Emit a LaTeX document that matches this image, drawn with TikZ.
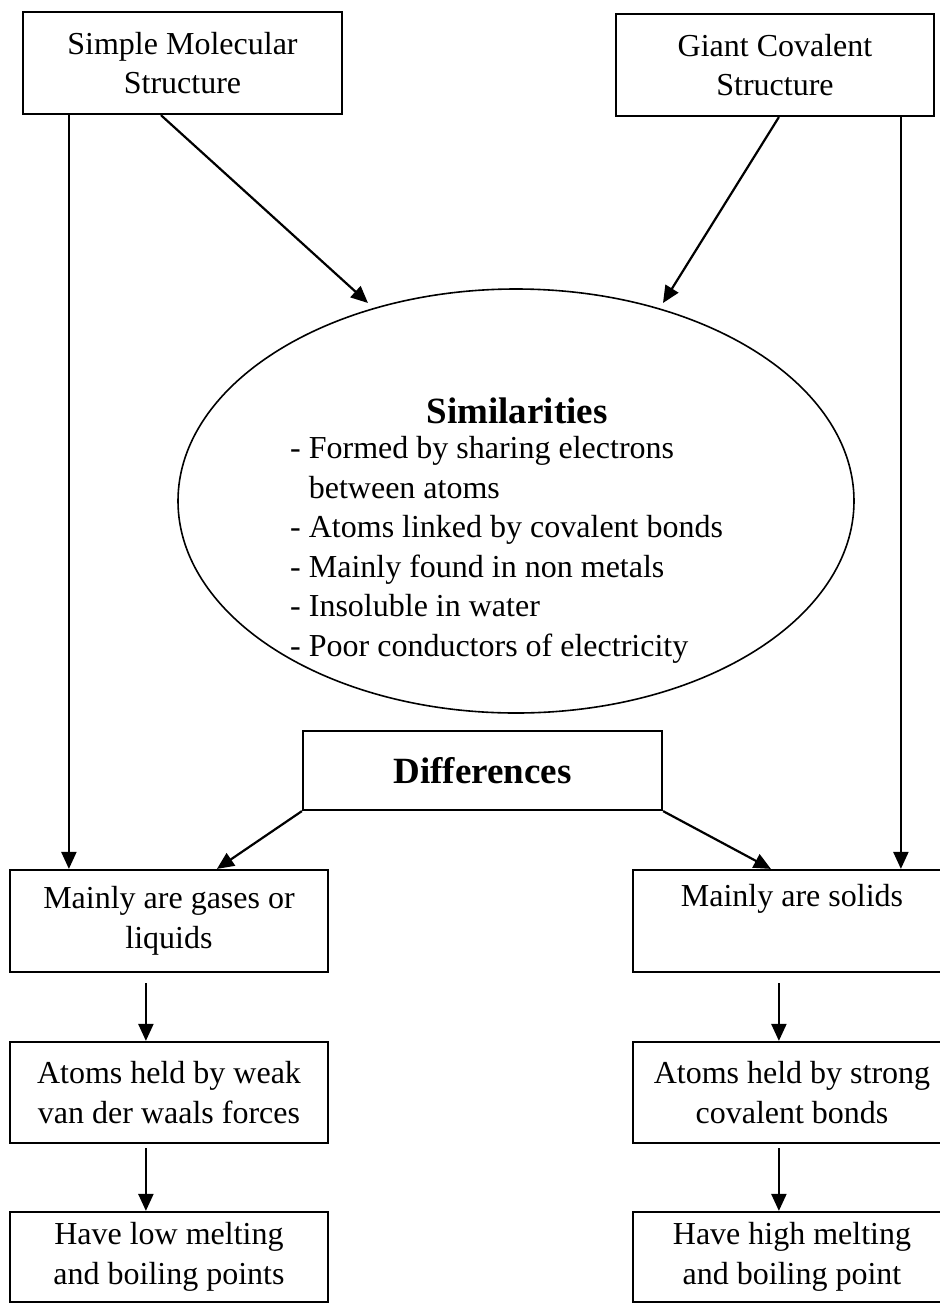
\documentclass[tikz,border=0pt]{standalone}
\usepackage{fontspec}
\setmainfont{Liberation Serif}
\usetikzlibrary{arrows.meta,shapes.geometric}
\begin{document}
\begin{tikzpicture}[x=1pt,y=-1pt,
  box/.style={draw,line width=2.2pt,rectangle,inner sep=0pt,minimum width=318pt,
    align=center,font=\fontsize{32}{39.5}\selectfont},
  conn/.style={line width=2.2pt,-{Triangle[length=17pt,width=15pt]}},
  txt/.style={inner sep=0pt,font=\fontsize{32}{39.6}\selectfont}]
\useasboundingbox (0,0) rectangle (940,1310);
\clip (0,0) rectangle (940,1310);

% top boxes
\node[box,minimum width=319pt,minimum height=102pt] (A) at (182.5,63) {Simple Molecular\\Structure};
\node[box,minimum height=102pt] (B) at (775,65) {Giant Covalent\\Structure};

% similarities ellipse
\node[draw,ellipse,line width=1.6pt,minimum width=676pt,minimum height=424pt] (ell) at (516,501) {};
\node[inner sep=0pt,font=\fontsize{37}{44}\selectfont\bfseries,anchor=base] (simh) at (517,423) {Similarities};
\node[txt,anchor=north west,align=left] (siml) at (290,436) {%
- Formed by sharing electrons\\
\phantom{- }between atoms\\
- Atoms linked by covalent bonds\\
- Mainly found in non metals\\
- Insoluble in water\\
- Poor conductors of electricity};

% differences
\node[box,minimum width=359pt,minimum height=79pt,font=\fontsize{37}{44}\selectfont\bfseries] (dif) at (482.5,770.5) {Differences};

% left column
\node[box,minimum height=102pt] (C) at (169,921) {Mainly are gases or\\liquids};
\node[box,minimum height=101pt] (D) at (169,1092.5) {Atoms held by weak\\van der waals forces};
\node[box,minimum height=90pt] (E) at (169,1257) {Have low melting\\and boiling points};

% right column
\node[box,minimum height=102pt] (F) at (792,921) {Mainly are solids\\\strut};
\node[box,minimum height=101pt] (G) at (792,1092.5) {Atoms held by strong\\covalent bonds};
\node[box,minimum height=90pt] (H) at (792,1257) {Have high melting\\and boiling point};

% arrow tips just above the ellipse
\coordinate (tl) at (368,303);
\coordinate (tr) at (663,303);

% connectors
\draw[conn] ([xshift=139pt]A.south west) -- (tl);
\draw[conn] ([xshift=164pt]B.south west) -- (tr);
\draw[conn] ([xshift=47pt]A.south west) -- ([xshift=60pt]C.north west);
\draw[conn] ([xshift=286pt]B.south west) -- ([xshift=269pt]F.north west);
\draw[conn] (dif.south west) -- ([xshift=208pt]C.north west);
\draw[conn] (dif.south east) -- ([xshift=139pt]F.north west);
\draw[conn] ([xshift=137pt,yshift=-10pt]C.south west) -- ([xshift=137pt]D.north west);
\draw[conn] ([xshift=137pt,yshift=-4pt]D.south west) -- ([xshift=137pt]E.north west);
\draw[conn] ([xshift=147pt,yshift=-10pt]F.south west) -- ([xshift=147pt]G.north west);
\draw[conn] ([xshift=147pt,yshift=-4pt]G.south west) -- ([xshift=147pt]H.north west);
\end{tikzpicture}
\end{document}
